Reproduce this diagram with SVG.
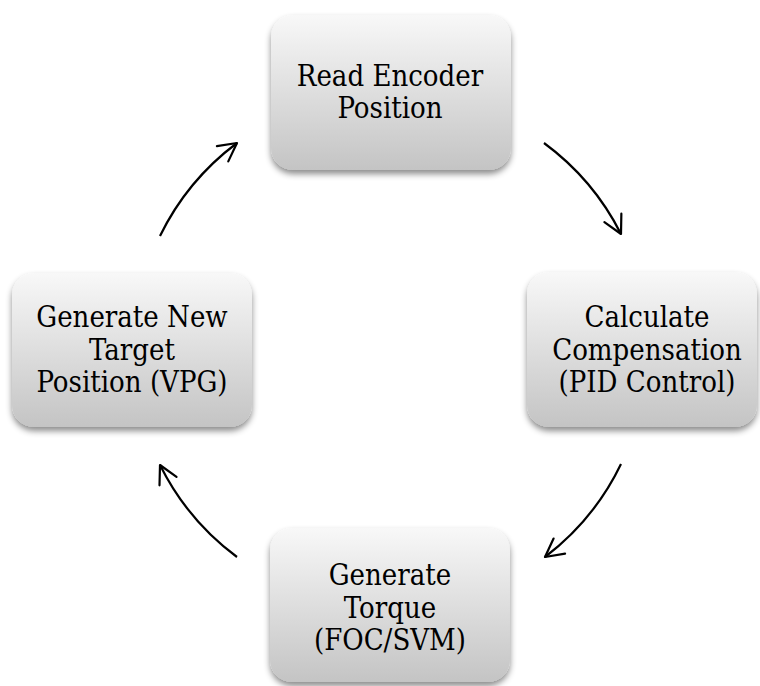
<svg xmlns="http://www.w3.org/2000/svg" width="760" height="686" viewBox="0 0 760 686">
  <defs>
    <linearGradient id="boxGrad" x1="0" y1="0" x2="0" y2="1">
      <stop offset="0" stop-color="#f8f8f8"/>
      <stop offset="1" stop-color="#c4c4c4"/>
    </linearGradient>
    <filter id="shadow" x="-10%" y="-10%" width="120%" height="130%">
      <feDropShadow dx="0" dy="4" stdDeviation="3" flood-color="#000" flood-opacity="0.45"/>
    </filter>
    <marker id="arrow" markerUnits="userSpaceOnUse" markerWidth="30" markerHeight="30" viewBox="-25 -15 30 30" refX="0" refY="0" orient="auto">
      <path d="M-18,-9.5 L0,0 L-18,9.5" fill="none" stroke="#000" stroke-width="2.2" stroke-linecap="round" stroke-linejoin="round"/>
    </marker>
    <style>
      .box { fill: url(#boxGrad); filter: url(#shadow); }
      .label { font-family: "DejaVu Serif Condensed", "DejaVu Serif", serif; font-stretch: condensed; font-size: 29px; fill: #000; text-anchor: middle; }
      .conn { fill: none; stroke: #000; stroke-width: 2.2; marker-end: url(#arrow); }
    </style>
  </defs>
  <rect width="760" height="686" fill="#fff"/>

  <g id="connectors">
    <path class="conn" d="M160,236 A257,257 0 0,1 237,143"/>
    <path class="conn" d="M544,143 A257,257 0 0,1 621,234"/>
    <path class="conn" d="M621,464 A257,257 0 0,1 545,557"/>
    <path class="conn" d="M237,557 A257,257 0 0,1 160,465"/>
  </g>

  <g id="node-read-encoder">
    <rect class="box" x="271" y="15" width="240" height="155" rx="22"/>
    <text class="label" x="390" y="86">Read Encoder</text>
    <text class="label" x="390" y="118">Position</text>
  </g>

  <g id="node-calculate">
    <rect class="box" x="527" y="272" width="230" height="155" rx="22"/>
    <text class="label" x="647" y="327">Calculate</text>
    <text class="label" x="647" y="360">Compensation</text>
    <text class="label" x="647" y="392">(PID Control)</text>
  </g>

  <g id="node-torque">
    <rect class="box" x="270" y="528" width="240" height="154" rx="22"/>
    <text class="label" x="390" y="585">Generate</text>
    <text class="label" x="390" y="618">Torque</text>
    <text class="label" x="390" y="650">(FOC/SVM)</text>
  </g>

  <g id="node-target">
    <rect class="box" x="12" y="273" width="240" height="154" rx="22"/>
    <text class="label" x="132" y="327">Generate New</text>
    <text class="label" x="132" y="360">Target</text>
    <text class="label" x="132" y="392">Position (VPG)</text>
  </g>
</svg>
